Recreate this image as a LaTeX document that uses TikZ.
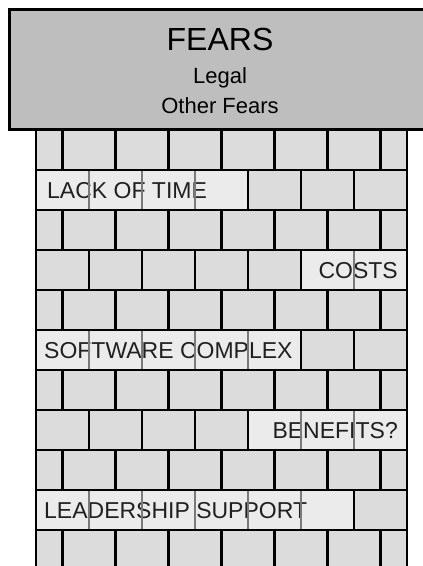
\documentclass[tikz,border=0pt]{standalone}
\usepackage{fontspec}
\setmainfont{Liberation Sans}
\definecolor{boxgray}{HTML}{BEBEBE}
\definecolor{brickgray}{HTML}{DCDCDC}
\definecolor{platefill}{HTML}{EBEBEB}
\definecolor{seamgray}{HTML}{7A7A7A}
\definecolor{inkdark}{HTML}{202020}
\tikzset{
    joint/.style={draw=black, line width=2.5pt}, % mortar lines
    plate/.style={fill=platefill, draw=black, line width=2.5pt}, % bricks that carry a word
    seam/.style={draw=seamgray, line width=1.2pt},
    walltext/.style={font=\fontsize{23}{25}\selectfont, text=inkdark, inner sep=0pt},
    roofbox/.style={fill=boxgray, draw=black, line width=3pt}
}

\begin{document}
\begin{tikzpicture}[x=1pt, y=-1pt]
    \useasboundingbox (0,0) rectangle (423,566);
    \clip (0,0) rectangle (423,566);

    % the wall
    \fill[brickgray] (36,130) rectangle (407,570);
    \foreach \y in {170,210,...,530} {\draw[joint] (36,\y) -- (407,\y);}
    \foreach \y in {130,210,290,370,450,530} {\foreach \x in {62.5,115.5,...,380.5} {\draw[joint] (\x,\y) -- (\x,\y+40);}}
    \foreach \y in {170,250,330,410,490} {\foreach \x in {89,142,...,354} {\draw[joint] (\x,\y) -- (\x,\y+40);}}
    \draw[joint] (36,130) -- (36,570) (407,130) -- (407,570);

    % bricks with words
    \draw[plate] (36,170) rectangle (248,210);
    \draw[plate] (301,250) rectangle (407,290);
    \draw[plate] (36,330) rectangle (301,370);
    \draw[plate] (248,410) rectangle (407,450);
    \draw[plate] (36,490) rectangle (354,530);

    \node[walltext, anchor=base west] (time) at (47,198) {LACK OF TIME};
    \node[walltext, anchor=base east] (costs) at (398,278) {COSTS};
    \node[walltext, anchor=base west] (software) at (44,358) {SOFTWARE COMPLEX};
    \node[walltext, anchor=base east] (benefits) at (398,438) {BENEFITS?};
    \node[walltext, anchor=base west] (leadership) at (44,518) {LEADERSHIP SUPPORT};

    \foreach \x in {89,142,195} {\draw[seam] (\x,171) -- (\x,209);}
    \draw[seam] (354,251) -- (354,289);
    \foreach \x in {89,142,195,248} {\draw[seam] (\x,331) -- (\x,369);}
    \foreach \x in {301,354} {\draw[seam] (\x,411) -- (\x,449);}
    \foreach \x in {89,142,195,248,301} {\draw[seam] (\x,491) -- (\x,529);}

    % the roof
    \draw[roofbox] (9,9) rectangle (431,129);
    \node[font=\fontsize{32}{34}\selectfont, inner sep=0pt, anchor=base] (fears) at (220,50) {FEARS};
    \node[font=\fontsize{22}{24}\selectfont, inner sep=0pt, anchor=base] (legal) at (220,83) {Legal};
    \node[font=\fontsize{22}{24}\selectfont, inner sep=0pt, anchor=base] (other) at (220,113) {Other Fears};
\end{tikzpicture}
\end{document}
